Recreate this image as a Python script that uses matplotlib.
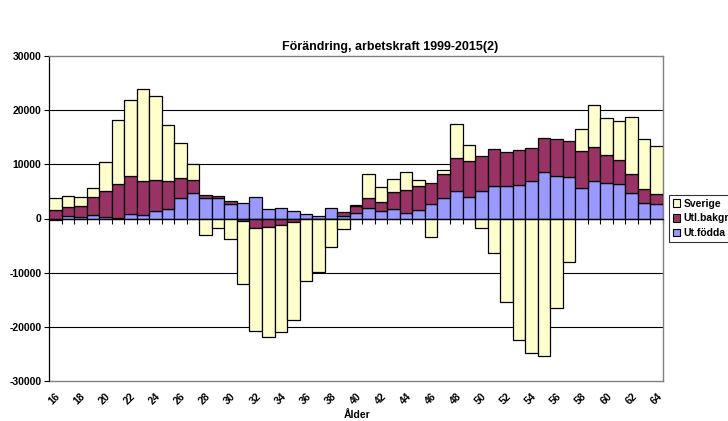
import matplotlib
matplotlib.use("Agg")
import matplotlib.pyplot as plt
import numpy as np
from matplotlib.patches import Patch

plt.rcParams['font.family'] = ['Liberation Sans', 'DejaVu Sans']
plt.rcParams['font.weight'] = 'bold'

ages = list(range(16, 65))
ut_fodda = [-200, 400, 200, 700, 300, 100, 900, 700, 1300, 1800,
            3700, 4700, 3800, 3700, 2700, 2800, 3900, 1700, 2000, 1350,
            750, 500, 1850, 500, 1000, 2000, 1400, 1800, 1000, 1600,
            2700, 3700, 5100, 4000, 5000, 5950, 5950, 6200, 6900, 8500,
            7850, 7600, 5650, 6950, 6550, 6400, 4700, 2900, 2650]
utl_bakgr = [1500, 1700, 2200, 3300, 4700, 6200, 7000, 6300, 5900, 5150,
             3800, 2400, 550, 500, 600, -500, -1800, -1500, -1200, -600,
             -100, -150, -100, 700, 1400, 1700, 1650, 3100, 4300, 4400,
             3900, 4500, 6100, 6550, 6600, 6850, 6350, 6500, 6200, 6450,
             6800, 6750, 6750, 6200, 5150, 4350, 3600, 2550, 1900]
sverige = [2200, 2100, 1650, 1600, 5400, 11900, 14000, 16900, 15500, 10250,
           6400, 3000, -3000, -1700, -3700, -11500, -19000, -20300, -19700, -18200,
           -11500, -9700, -5100, -2000, 150, 4500, 2800, 2350, 3200, 1200,
           -3400, 700, 6300, 3050, -1800, -6300, -15500, -22400, -24900, -25400,
           -16600, -8000, 4200, 7850, 6800, 7200, 10400, 9200, 8850]

series = [("Ut.födda", ut_fodda, "#9999FF"),
          ("Utl.bakgr", utl_bakgr, "#993366"),
          ("Sverige", sverige, "#FFFFCC")]

fig = plt.figure(figsize=(7.28, 4.21), dpi=100)
ax = fig.add_axes([49/728, 1-381/421, (663-49)/728, (381-56)/421])

x = np.arange(len(ages))
pos_base = np.zeros(len(ages))
neg_base = np.zeros(len(ages))
for name, vals, col in series:
    v = np.array(vals, dtype=float)
    bottoms = np.where(v >= 0, pos_base, neg_base)
    ax.bar(x, v, bottom=bottoms, width=1.0, color=col, edgecolor='black',
           linewidth=0.9, zorder=3)
    pos_base = pos_base + np.where(v >= 0, v, 0)
    neg_base = neg_base + np.where(v < 0, v, 0)

ax.set_xlim(-0.5, len(ages) - 0.5)
ax.set_ylim(-30000, 30000)
yt = np.arange(-30000, 30001, 10000)
ax.set_yticks(yt)
ax.set_yticklabels([str(v) for v in yt], fontsize=7.5, fontweight='bold')
for v in yt[1:-1]:
    if v != 0:
        ax.axhline(v, color='black', linewidth=0.8, zorder=1)
ax.tick_params(axis='y', direction='out', length=3.5, width=0.8, pad=2)

# category axis at zero
ax.spines['bottom'].set_position(('data', 0))
ax.spines['bottom'].set_color('black')
ax.spines['bottom'].set_linewidth(0.9)
ax.spines['bottom'].set_zorder(4)
ax.set_xticks(np.arange(-0.5, len(ages), 1.0))
ax.set_xticklabels([])
ax.tick_params(axis='x', direction='out', length=3.5, width=0.8)
ax.spines['left'].set_color('black')
ax.spines['left'].set_linewidth(0.9)
for s in ['top', 'right']:
    ax.spines[s].set_color('#808080')
    ax.spines[s].set_linewidth(1.0)

sec = ax.secondary_xaxis(0.0)
lab_pos = x[::2]
sec.set_xticks(lab_pos)
sec.set_xticklabels([str(a) for a in ages[::2]], rotation=45, ha='right',
                    rotation_mode='anchor', fontsize=7.5, fontweight='bold')
sec.tick_params(axis='x', length=0, pad=7)
sec.spines['bottom'].set_color('#808080')
sec.spines['bottom'].set_linewidth(1.0)

fig.text(390/728, 1-47/421, "Förändring, arbetskraft 1999-2015(2)",
         ha='center', va='center', fontsize=9, fontweight='bold')
fig.text(357/728, 1-415/421, "Ålder", ha='center', va='center',
         fontsize=7.5, fontweight='bold')

handles = [Patch(facecolor=c, edgecolor='black', linewidth=0.8) for _, _, c in series[::-1]]
labels = [n for n, _, _ in series[::-1]]
leg = fig.legend(handles, labels, loc='upper left',
                 bbox_to_anchor=(669/728, 1-195/421), fontsize=7.5,
                 frameon=True, fancybox=False, edgecolor='black',
                 handlelength=0.75, handleheight=0.75, handletextpad=0.3,
                 borderpad=0.35, labelspacing=0.45, borderaxespad=0)
leg.get_frame().set_linewidth(0.8)
for t in leg.get_texts():
    t.set_fontweight('bold')

fig.savefig("out.png", dpi=100)
